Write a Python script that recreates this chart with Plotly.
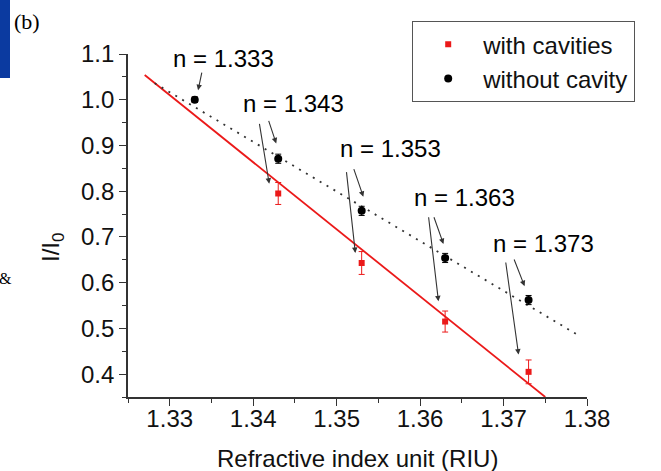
import plotly.graph_objects as go

# ---- data ----
n_values = [1.333, 1.343, 1.353, 1.363, 1.373]
with_cavities = [1.000, 0.795, 0.643, 0.515, 0.405]
with_cavities_err = [0.0, 0.024, 0.025, 0.023, 0.026]
without_cavity = [1.000, 0.871, 0.757, 0.654, 0.562]
without_cavity_err = [0.006, 0.010, 0.010, 0.010, 0.010]

# fitted lines (end points)
fit_red_x = [1.327, 1.375]
fit_red_y = [1.054, 0.350]
fit_black_x = [1.3282, 1.379]
fit_black_y = [1.036, 0.4846]

label_texts = ["n = 1.333", "n = 1.343", "n = 1.353", "n = 1.363", "n = 1.373"]
label_x = [1.3364, 1.3448, 1.3564, 1.3653, 1.3748]
label_y = [1.0912, 0.9923, 0.8934, 0.7857, 0.6846]

# arrows: (tail_x, tail_y, tip_x, tip_y)
arrows = [
    (1.33388, 1.0626, 1.3334, 1.0209),
    (1.34072, 0.9505, 1.34192, 0.8165),
    (1.34180, 0.9571, 1.34276, 0.9044),
    (1.35116, 0.8451, 1.35224, 0.6648),
    (1.35200, 0.8516, 1.35320, 0.7879),
    (1.36100, 0.7462, 1.36220, 0.5593),
    (1.36160, 0.7462, 1.36280, 0.6846),
    (1.37024, 0.6473, 1.37180, 0.4429),
    (1.37120, 0.6538, 1.37252, 0.5923),
]

FONT = "Liberation Sans, Arial, sans-serif"
SERIF = "Liberation Serif, Times New Roman, serif"
RED = "rgb(235,25,25)"

fig = go.Figure()

fig.add_trace(go.Scatter(
    x=fit_red_x, y=fit_red_y, mode="lines",
    line=dict(color=RED, width=1.8), showlegend=False, hoverinfo="skip"))
fig.add_trace(go.Scatter(
    x=fit_black_x, y=fit_black_y, mode="lines",
    line=dict(color="#333333", width=1.8, dash="2px,6px"),
    showlegend=False, hoverinfo="skip"))

fig.add_trace(go.Scatter(
    x=n_values, y=with_cavities, mode="markers", name="with cavities",
    marker=dict(symbol="square", size=6, color=RED),
    error_y=dict(type="data", array=with_cavities_err, visible=True,
                 color=RED, thickness=1, width=3)))
fig.add_trace(go.Scatter(
    x=n_values, y=without_cavity, mode="markers", name="without cavity",
    marker=dict(symbol="circle", size=8, color="black"),
    error_y=dict(type="data", array=without_cavity_err, visible=True,
                 color="black", thickness=1, width=3)))


def px_x(px):
    return (px - 128) / 459


def px_y(py):
    return (397 - py) / 343


annotations = []
for t, x, y in zip(label_texts, label_x, label_y):
    annotations.append(dict(x=x, y=y, xref="x", yref="y", text=t,
                            xanchor="center", yanchor="middle",
                            showarrow=False, font=dict(size=24, color="black", family=FONT)))
for tx, ty, hx, hy in arrows:
    annotations.append(dict(x=hx, y=hy, ax=tx, ay=ty, xref="x", yref="y",
                            axref="x", ayref="y", text="", showarrow=True,
                            arrowhead=2, arrowsize=1, arrowwidth=1.1,
                            arrowcolor="#333333", standoff=0, startstandoff=0))

# axis titles
annotations.append(dict(x=px_x(357), y=px_y(458), xref="paper", yref="paper",
                        xanchor="center", yanchor="middle",
                        text="Refractive index unit (RIU)", showarrow=False,
                        font=dict(size=24, color="#111111", family=FONT)))
annotations.append(dict(x=px_x(52), y=px_y(248), xref="paper", yref="paper",
                        xanchor="center", yanchor="middle",
                        text="I/I<sub>0</sub>", textangle=-90, showarrow=False,
                        font=dict(size=24, color="#111111", family=FONT)))
# stray page texts
annotations.append(dict(x=px_x(27), y=px_y(21), xref="paper", yref="paper",
                        xanchor="center", yanchor="middle",
                        text="(b)", showarrow=False,
                        font=dict(size=22, color="black", family=SERIF)))
annotations.append(dict(x=px_x(6), y=px_y(278), xref="paper", yref="paper",
                        xanchor="center", yanchor="middle",
                        text="&amp;", showarrow=False,
                        font=dict(size=16, color="black", family=SERIF)))

shapes = [dict(type="rect", xref="paper", yref="paper",
               x0=px_x(0), x1=px_x(10), y0=px_y(78), y1=px_y(-2),
               fillcolor="#0b3aa0", line=dict(width=0), layer="above")]

axis_common = dict(showline=True, linecolor="#333333", linewidth=1.6, mirror=False,
                   ticks="outside", ticklen=7, tickwidth=1.4, tickcolor="#333333",
                   showgrid=False, zeroline=False,
                   tickfont=dict(size=24, color="#111111", family=FONT))

fig.update_layout(
    width=661, height=471,
    margin=dict(l=128, r=74, t=54, b=74),
    paper_bgcolor="white", plot_bgcolor="white",
    font=dict(family=FONT, size=24, color="#111111"),
    xaxis=dict(range=[1.325, 1.38], tickvals=[1.33, 1.34, 1.35, 1.36, 1.37, 1.38],
               tickformat=".2f", ticklabelstandoff=-8,
               minor=dict(tickvals=[1.325, 1.335, 1.345, 1.355, 1.365, 1.375],
                          ticklen=4, tickwidth=1.2, tickcolor="#333333", ticks="outside"),
               **axis_common),
    yaxis=dict(range=[0.35, 1.1], tickvals=[0.4, 0.5, 0.6, 0.7, 0.8, 0.9, 1.0, 1.1],
               tickformat=".1f",
               minor=dict(tickvals=[0.35, 0.45, 0.55, 0.65, 0.75, 0.85, 0.95, 1.05],
                          ticklen=4, tickwidth=1.2, tickcolor="#333333", ticks="outside"),
               **axis_common),
    legend=dict(x=px_x(412), y=px_y(21), xanchor="left", yanchor="top",
                bordercolor="#555555", borderwidth=1.2, bgcolor="white",
                itemwidth=60, font=dict(size=24, color="#111111", family=FONT),
                tracegroupgap=0),
    annotations=annotations,
    shapes=shapes,
)

fig.write_html("out.html")
